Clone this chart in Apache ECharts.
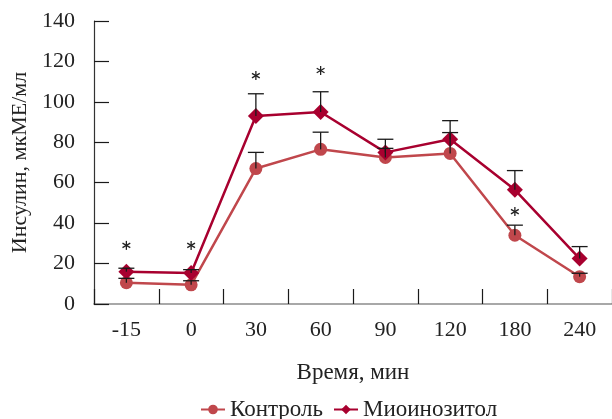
<!DOCTYPE html>
<html><head><meta charset="utf-8">
<script src="https://cdn.jsdelivr.net/npm/echarts@6/dist/echarts.min.js"></script>
<style>html,body{margin:0;padding:0;background:#fff}#c{width:612px;height:419px}</style>
</head><body><div id="c"></div>
<script>
const categories = ['-15','0','30','60','90','120','180','240'];
const controlValues = [10.5, 9.5, 67, 76.5, 72.5, 74.5, 34, 13.5];
const controlErr = [2.2, 2.0, 8, 8.5, 4.5, 10.3, 5, 1.7];
const mioValues = [16, 15.3, 93, 95, 75, 81.5, 56.5, 22.5];
const mioErr = [1.7, 1.7, 11, 10, 6.5, 9.2, 9.5, 5.9];
const starPoints = [['-15', 29], ['0', 29], ['30', 113], ['60', 115.5], ['180', 45.7]];
const yTicks = [0, 20, 40, 60, 80, 100, 120, 140];

const FONT = 'Liberation Serif';
const chart = echarts.init(document.getElementById('c'), null, {renderer: 'canvas'});

function errData(vals, errs) {
  return vals.map((v, i) => [i, v, v + errs[i]]);
}
function errRender(params, api) {
  const x = api.value(0);
  const p0 = api.coord([x, api.value(1)]);
  const p1 = api.coord([x, api.value(2)]);
  const hw = 8;
  const st = {stroke: '#1a1a1a', lineWidth: 1.3};
  return {type: 'group', children: [
    {type: 'line', shape: {x1: p0[0], y1: p0[1], x2: p1[0], y2: p1[1]}, style: st},
    {type: 'line', shape: {x1: p1[0] - hw, y1: p1[1], x2: p1[0] + hw, y2: p1[1]}, style: st}
  ]};
}
function starRender(params, api) {
  const p = api.coord([api.value(0), api.value(1)]);
  const r = 4.5;
  const st = {stroke: '#222', lineWidth: 1.3};
  const ch = [];
  for (let k = 0; k < 3; k++) {
    const a = Math.PI / 2 + k * Math.PI / 3;
    ch.push({type: 'line', shape: {x1: p[0] - r * Math.cos(a), y1: p[1] - r * Math.sin(a), x2: p[0] + r * Math.cos(a), y2: p[1] + r * Math.sin(a)}, style: st});
  }
  return {type: 'group', children: ch};
}

chart.setOption({
  animation: false,
  grid: {left: 94, right: 0, top: 21, bottom: 115, containLabel: false, outerBoundsMode: 'none'},
  xAxis: {
    type: 'category', data: categories, boundaryGap: true,
    axisLine: {show: true, lineStyle: {color: '#a8a8a8', width: 2}},
    axisTick: {show: true, inside: true, length: 15, interval: 0, lineStyle: {color: '#1a1a1a', width: 1.2}},
    axisLabel: {fontFamily: FONT, fontSize: 22, color: '#222', margin: 15, interval: 0},
    name: 'Время, мин', nameLocation: 'middle', nameGap: 57,
    nameTextStyle: {fontFamily: FONT, fontSize: 23, color: '#222'}
  },
  yAxis: {
    type: 'value', min: 0, max: 140, interval: 20,
    axisLine: {show: true, lineStyle: {color: '#333', width: 1.2}},
    axisTick: {show: true, inside: true, length: 15, lineStyle: {color: '#1a1a1a', width: 1.2}},
    splitLine: {show: false},
    axisLabel: {fontFamily: FONT, fontSize: 22, color: '#222', margin: 19,
      customValues: yTicks},
    name: 'Инсулин, мкМЕ/мл', nameLocation: 'middle', nameGap: 61, nameRotate: 90,
    nameTextStyle: {fontFamily: FONT, fontSize: 22, color: '#222'}
  },
  legend: {
    left: 195, top: 393, itemWidth: 24, itemHeight: 12, itemGap: 10,
    textStyle: {fontFamily: FONT, fontSize: 23, color: '#222'},
    data: ['Контроль', 'Миоинозитол']
  },
  series: [
    {name: 'Контроль', type: 'line', data: controlValues, symbol: 'circle', symbolSize: 13,
     itemStyle: {color: '#c0474c'}, lineStyle: {color: '#c0474c', width: 2.5}, z: 2},
    {name: 'Миоинозитол', type: 'line', data: mioValues, symbol: 'diamond', symbolSize: 16,
     itemStyle: {color: '#a8002f'}, lineStyle: {color: '#a8002f', width: 2.5}, z: 3},
    {type: 'custom', renderItem: errRender, data: errData(controlValues, controlErr), z: 5, silent: true},
    {type: 'custom', renderItem: errRender, data: errData(mioValues, mioErr), z: 5, silent: true},
    {type: 'custom', renderItem: starRender, data: starPoints, z: 5, silent: true}
  ]
});
</script></body></html>
